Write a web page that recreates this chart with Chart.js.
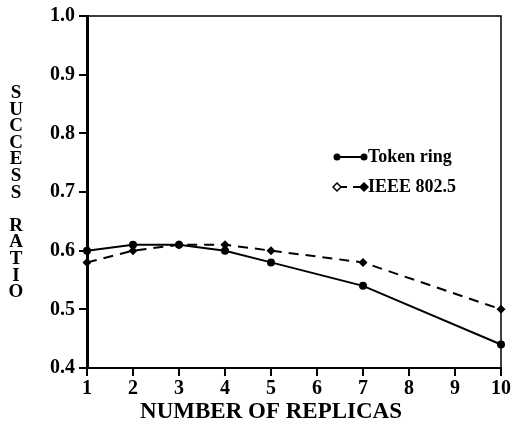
<!DOCTYPE html>
<html>
<head>
<meta charset="utf-8">
<script src="https://cdn.jsdelivr.net/npm/chart.js@4"></script>
<style>
  body { margin: 0; background: #fff; }
</style>
</head>
<body>
<canvas id="ratioChart" width="513" height="436"></canvas>
<script>
const replicas = [1, 2, 3, 4, 5, 7, 10];
const tokenRing = [0.60, 0.61, 0.61, 0.60, 0.58, 0.54, 0.44];
const ieee8025 = [0.58, 0.60, 0.61, 0.61, 0.60, 0.58, 0.50];
const xTicks = [1, 2, 3, 4, 5, 6, 7, 8, 9, 10];
const yTicks = [0.4, 0.5, 0.6, 0.7, 0.8, 0.9, 1.0];
const seriesNames = ['Token ring', 'IEEE 802.5'];
const xTitle = 'NUMBER OF REPLICAS';
const yTitle = 'SUCCESS RATIO';

const serif = '"Liberation Serif", "Times New Roman", serif';

function toPoints(ys) {
  return replicas.map((x, i) => ({ x: x, y: ys[i] }));
}

function diamond(ctx, x, y, r, filled) {
  ctx.beginPath();
  ctx.moveTo(x, y - r);
  ctx.lineTo(x + r, y);
  ctx.lineTo(x, y + r);
  ctx.lineTo(x - r, y);
  ctx.closePath();
  ctx.fillStyle = filled ? '#000' : '#fff';
  ctx.fill();
  ctx.stroke();
}

// frame, stacked y title, x title and the in-plot legend
const extras = {
  id: 'extras',
  afterDraw(chart) {
    const ctx = chart.ctx;
    const a = chart.chartArea;
    ctx.save();
    ctx.strokeStyle = '#000';
    ctx.lineWidth = 1.5;
    ctx.beginPath();
    ctx.moveTo(a.left, a.top);
    ctx.lineTo(a.right, a.top);
    ctx.lineTo(a.right, a.bottom);
    ctx.stroke();

    ctx.fillStyle = '#000';
    ctx.textAlign = 'center';
    ctx.textBaseline = 'middle';
    ctx.font = 'bold 19px ' + serif;
    yTitle.split('').forEach((ch, i) => {
      ctx.fillText(ch, 16, 93 + i * 16.6);
    });

    ctx.font = 'bold 23px ' + serif;
    ctx.fillText(xTitle, 271, 412);

    // legend
    ctx.textAlign = 'left';
    ctx.font = 'bold 18px ' + serif;
    ctx.lineWidth = 2;
    ctx.beginPath();
    ctx.moveTo(337, 157);
    ctx.lineTo(364, 157);
    ctx.stroke();
    [337, 364].forEach(x => {
      ctx.beginPath();
      ctx.arc(x, 157, 3.5, 0, Math.PI * 2);
      ctx.fill();
    });
    ctx.fillText(seriesNames[0], 368, 157);

    ctx.setLineDash([7, 6]);
    ctx.beginPath();
    ctx.moveTo(340, 187);
    ctx.lineTo(362, 187);
    ctx.stroke();
    ctx.setLineDash([]);
    ctx.lineWidth = 1.5;
    diamond(ctx, 337, 187, 4, false);
    diamond(ctx, 364, 187, 4, true);
    ctx.fillStyle = '#000';
    ctx.fillText(seriesNames[1], 368, 187);
    ctx.restore();
  }
};

const ctx = document.getElementById('ratioChart').getContext('2d');
new Chart(ctx, {
  type: 'line',
  data: {
    datasets: [{
      label: seriesNames[0],
      data: toPoints(tokenRing),
      borderColor: '#000',
      backgroundColor: '#000',
      borderWidth: 2,
      pointStyle: 'circle',
      pointRadius: 4,
      pointBorderWidth: 0,
      tension: 0
    }, {
      label: seriesNames[1],
      data: toPoints(ieee8025),
      borderColor: '#000',
      backgroundColor: '#000',
      borderWidth: 2,
      borderDash: [10, 7],
      pointStyle: 'rectRot',
      pointRadius: 4.5,
      pointBorderWidth: 0,
      tension: 0
    }]
  },
  options: {
    responsive: false,
    animation: false,
    clip: false,
    layout: { padding: { top: 15, right: 12, left: 0, bottom: 0 } },
    plugins: {
      legend: { display: false },
      tooltip: { enabled: false }
    },
    scales: {
      x: {
        type: 'linear',
        min: 1,
        max: 10,
        afterBuildTicks: s => { s.ticks = xTicks.map(v => ({ value: v })); },
        afterFit: s => { s.height = 68; },
        border: { color: '#000', width: 2 },
        grid: { drawOnChartArea: false, color: '#000', lineWidth: 2, tickLength: 8 },
        ticks: {
          color: '#000',
          padding: 1,
          maxRotation: 0,
          font: { family: serif, size: 20, weight: 'bold' }
        }
      },
      y: {
        min: 0.4,
        max: 1.0,
        afterBuildTicks: s => { s.ticks = yTicks.map(v => ({ value: v })); },
        afterFit: s => { s.width = 87; },
        border: { color: '#000', width: 3 },
        grid: { drawOnChartArea: false, color: '#000', lineWidth: 2, tickLength: 8 },
        ticks: {
          color: '#000',
          padding: 4,
          callback: v => v.toFixed(1),
          font: { family: serif, size: 20, weight: 'bold' }
        }
      }
    }
  },
  plugins: [extras]
});
</script>
</body>
</html>
